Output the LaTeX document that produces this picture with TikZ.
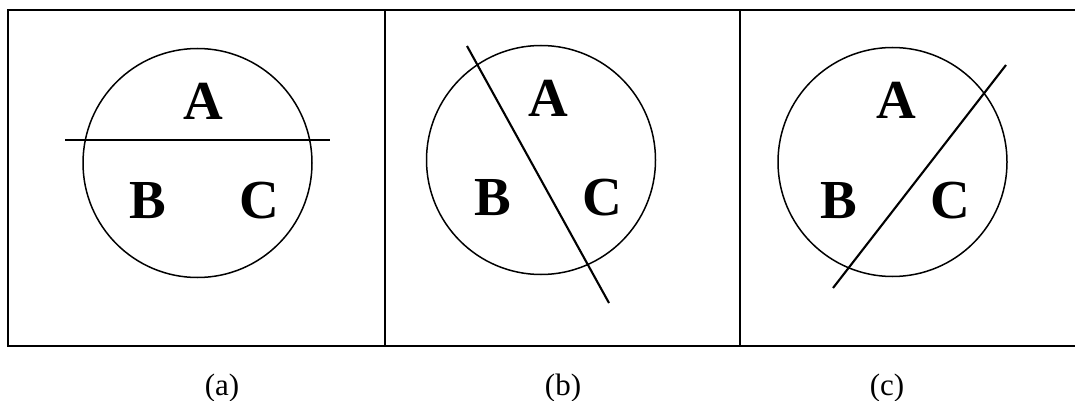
\documentclass[tikz,border=0pt]{standalone}
\usepackage{fontspec}
\setmainfont{Liberation Serif}
\usetikzlibrary{positioning}

\begin{document}
\begin{tikzpicture}[
  x=1pt,
  y=-1pt,
  frame/.style={
    draw,
    line width=1.8pt
  },
  disc/.style={
    draw,
    circle,
    line width=1.5pt,
    minimum size=229pt,
    inner sep=0pt
  },
  region/.style={
    inner sep=0pt,
    font=\fontsize{55}{60}\selectfont\bfseries
  },
  caption/.style={
    inner sep=0pt,
    font=\fontsize{31}{34}\selectfont
  },
  cut/.style={line width=2.1pt}
]
\useasboundingbox (0,0) rectangle (1075,401);

% Frames
\draw[frame] (8,10) rectangle (1090,346);
\draw[frame] (385,10) -- (385,346);
\draw[frame] (740,10) -- (740,346);

% Panel (a): horizontal cut
\node[disc] (circA) at (197.5,163) {};
\node[region] (a-A) at (203,101) {A};
\node[region] (a-B) at (148,201) {B};
\node[region] (a-C) at (259,201) {C};
\coordinate (a-start) at (65,140);
\coordinate (a-end) at (330,140);
\draw[cut] (a-start) -- (a-end);
\node[caption] (capA) at (222,388) {(a)};

% Panel (b): falling cut
\node[disc] (circB) at (541,160) {};
\node[region] (b-A) at (548,98) {A};
\node[region] (b-B) at (493,198) {B};
\node[region] (b-C) at (602,198) {C};
\coordinate (b-start) at (467,46);
\coordinate (b-end) at (609,303);
\draw[cut] (b-start) -- (b-end);
\node[caption] (capB) at (563,388) {(b)};

% Panel (c): rising cut
\node[disc] (circC) at (892.5,162) {};
\node[region] (c-A) at (896,100) {A};
\node[region] (c-B) at (839,201) {B};
\node[region] (c-C) at (950,201) {C};
\coordinate (c-start) at (833,288);
\coordinate (c-end) at (1006,65);
\draw[cut] (c-start) -- (c-end);
\node[caption] (capC) at (887,388) {(c)};

\end{tikzpicture}
\end{document}
